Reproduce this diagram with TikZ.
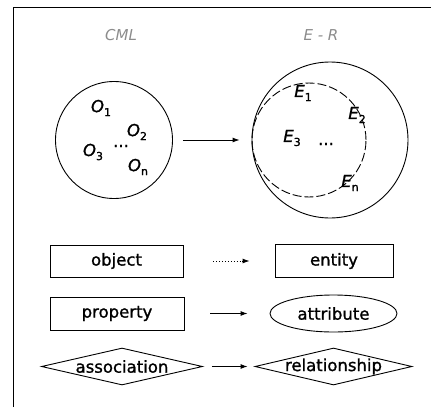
\documentclass[tikz,border=0pt]{standalone}
\usepackage{fontspec}
\setmainfont{DejaVu Sans}
\newfontfamily\heavyfont[FakeBold=1.2]{DejaVu Sans}
\usetikzlibrary{shapes.geometric,arrows.meta}
\newcommand\sublbl[2]{\textit{#1}\raisebox{-0.45ex}{\fontsize{11}{11}\selectfont #2}}
\begin{document}
\begin{tikzpicture}[x=1pt,y=-1pt,
  txt/.style={font=\fontsize{16.5}{18}\selectfont\heavyfont, inner sep=0pt},
  heading/.style={font=\fontsize{15}{17}\selectfont\itshape, text=black!45, inner sep=0pt},
  thing/.style={draw, line width=0.9pt, inner sep=0pt, font=\fontsize{16.5}{18}\selectfont\heavyfont},
  conn/.style={line width=0.9pt, -{Latex[length=7pt,width=5pt]}},
  dashcircle/.style={draw, circle, line width=0.9pt, inner sep=0pt, dash pattern=on 9pt off 3pt}]
\useasboundingbox (0,0) rectangle (431,407);
\draw[line width=0.9pt] (13,407) -- (13,7) -- (431,7);

% headings
\node[heading] (hcml) at (121,35) {CML};
\node[heading] (her) at (321,35) {E - R};

% CML circle
\node[draw, circle, line width=0.9pt, minimum size=117, inner sep=0pt] (cml) at (114,140) {};
\node[txt] (o1) at (101,108) {\sublbl{O}{1}};
\node[txt] (o2) at (137,132) {\sublbl{O}{2}};
\node[txt] (o3) at (93,152) {\sublbl{O}{3}};
\node[txt] (od) at (121,146) {...};
\node[txt] (on) at (138,167) {\sublbl{O}{n}};

% E-R circles
\node[draw, circle, line width=0.9pt, minimum size=156, inner sep=0pt] (er) at (330,140) {};
\node[dashcircle, minimum size=114] (erin) at (309,140) {};
\node[txt] (e1) at (303,93) {\sublbl{E}{1}};
\node[txt] (e2) at (357,115) {\sublbl{E}{2}};
\node[txt] (e3) at (292,138) {\sublbl{E}{3}};
\node[txt] (ed) at (326,144) {...};
\node[txt] (en) at (350,183) {\sublbl{E}{n}};

\draw[conn, shorten <=10pt, shorten >=12pt] (cml) -- (er);

% mapping rows
\node[thing, rectangle, minimum width=133, minimum height=32] (obj) at (116.5,261) {object};
\node[thing, rectangle, minimum width=118, minimum height=33] (ent) at (334,261) {entity};
\node[thing, rectangle, minimum width=134, minimum height=33] (prop) at (117,313.5) {property};
\node[thing, ellipse, minimum width=127, minimum height=37] (attr) at (333.5,313.5) {attribute};
\node[thing, diamond, minimum width=161, minimum height=37, label={[txt]center:association}] (assoc) at (122,366.5) {};
\node[thing, diamond, minimum width=157, minimum height=37, label={[txt]center:relationship}] (rel) at (333.5,366.5) {};

\draw[conn, dotted, shorten <=30pt, shorten >=25pt] (obj) -- (ent);
\draw[conn, shorten <=26pt, shorten >=22pt] (prop) -- (attr);
\draw[conn, shorten <=9pt, shorten >=7pt] (assoc) -- (rel);
\end{tikzpicture}
\end{document}
